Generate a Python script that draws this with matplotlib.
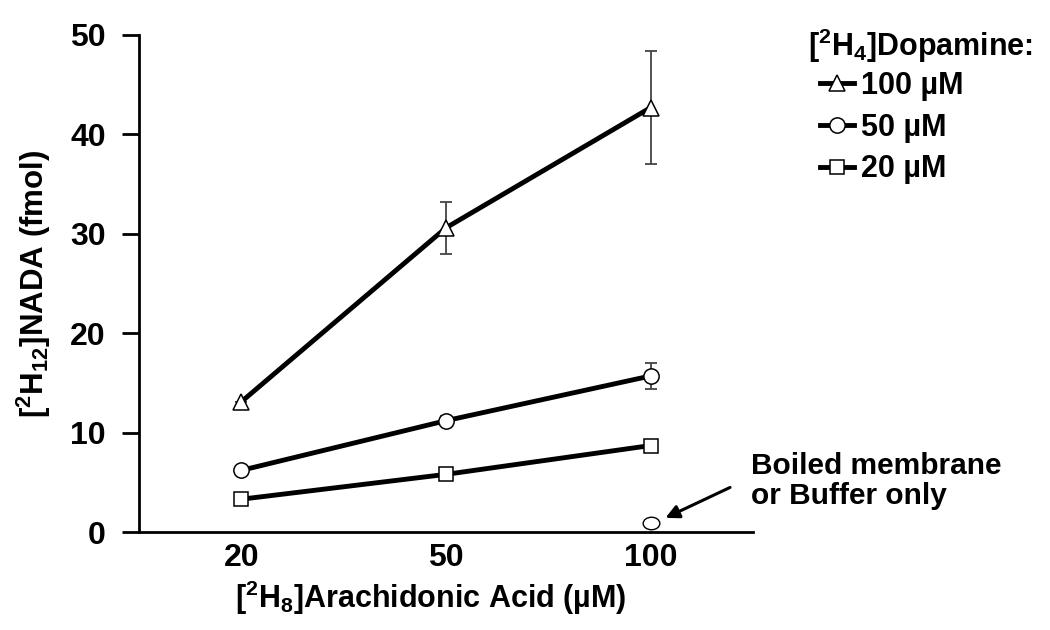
import numpy as np
import matplotlib
matplotlib.use('Agg')
import matplotlib.pyplot as plt
from matplotlib.path import Path
from matplotlib.transforms import Affine2D

plt.rcParams['font.family'] = ['Liberation Sans', 'DejaVu Sans']
plt.rcParams['font.weight'] = 'bold'
plt.rcParams['mathtext.fontset'] = 'custom'
plt.rcParams['mathtext.rm'] = 'Liberation Sans:bold'
plt.rcParams['mathtext.default'] = 'rm'

# data
aa_conc = ['20', '50', '100']
da_100 = [13.1, 30.6, 42.7]
da_100_err = [0.0, 2.6, 5.7]
da_50 = [6.2, 11.2, 15.7]
da_50_err = [0.3, 0.5, 1.3]
da_20 = [3.3, 5.8, 8.7]
da_20_err = [0.0, 0.0, 0.0]
boiled_x = [2]
boiled_y = [0.9]

fig = plt.figure(figsize=(10.5, 6.3), dpi=100)
ax = fig.add_axes([139/1050, 1-532/630, (753-139)/1050, (532-35)/630])
x = np.arange(len(aa_conc))

series = [
    (da_100, da_100_err, '^', 12, '100 µM'),
    (da_50, da_50_err, 'o', 11, '50 µM'),
    (da_20, da_20_err, 's', 10, '20 µM'),
]
for vals, err, m, ms, lab in series:
    ax.errorbar(x, vals, yerr=err, fmt='none', ecolor='#444444', elinewidth=1.3,
                capsize=4, capthick=1.3, zorder=2)
    ax.plot(x, vals, color='black', lw=3.5, marker=m, ms=ms, mfc='white',
            mec='black', mew=1.1, label=lab, zorder=3)

# boiled membrane point (flattened circle)
ell = Path.unit_circle().transformed(Affine2D().scale(1.0, 0.75))
ax.plot(boiled_x, boiled_y, ls='none', marker=ell, ms=12, mfc='white',
        mec='black', mew=1.0, zorder=3)
ax.annotate('', xy=(2.06, 1.3), xytext=(2.40, 4.6),
            arrowprops=dict(arrowstyle='-|>', color='black', lw=2.2,
                            mutation_scale=20), annotation_clip=False)
ax.text(2.49, 5.1, 'Boiled membrane\nor Buffer only', fontsize=21.5,
        fontweight='bold', va='center', ha='left', linespacing=1.1,
        clip_on=False)

ax.set_xlim(-0.5, 2.5)
ax.set_ylim(0, 50)
ax.set_xticks(x)
ax.set_xticklabels(aa_conc)
ax.set_yticks([0, 10, 20, 30, 40, 50])
ax.tick_params(axis='x', length=0, pad=8, labelsize=23)
ax.tick_params(axis='y', length=12, width=2, pad=12, labelsize=23,
               direction='out')
for s in ['top', 'right']:
    ax.spines[s].set_visible(False)
for s in ['left', 'bottom']:
    ax.spines[s].set_linewidth(2)

ax.set_xlabel(r'[$^{2}$H$_{8}$]Arachidonic Acid (µM)', fontsize=22,
              fontweight='bold', labelpad=4)
ax.xaxis.label.set_x(0.475)
ax.set_ylabel(r'[$^{2}$H$_{12}$]NADA (fmol)', fontsize=22.5,
              fontweight='bold', labelpad=12)

# legend title drawn separately so the entries sit indented
fig.text(808/1050, 1-46/630, r'[$^{2}$H$_{4}$]Dopamine:', fontsize=22,
         fontweight='bold', ha='left', va='center')
leg = ax.legend(loc='upper left', bbox_to_anchor=(820/1050, 1-71/630),
                bbox_transform=fig.transFigure, frameon=False,
                fontsize=22, handlelength=1.1, borderpad=0,
                handletextpad=0.25, labelspacing=0.38, borderaxespad=0)

fig.savefig('out.png', dpi=100)
